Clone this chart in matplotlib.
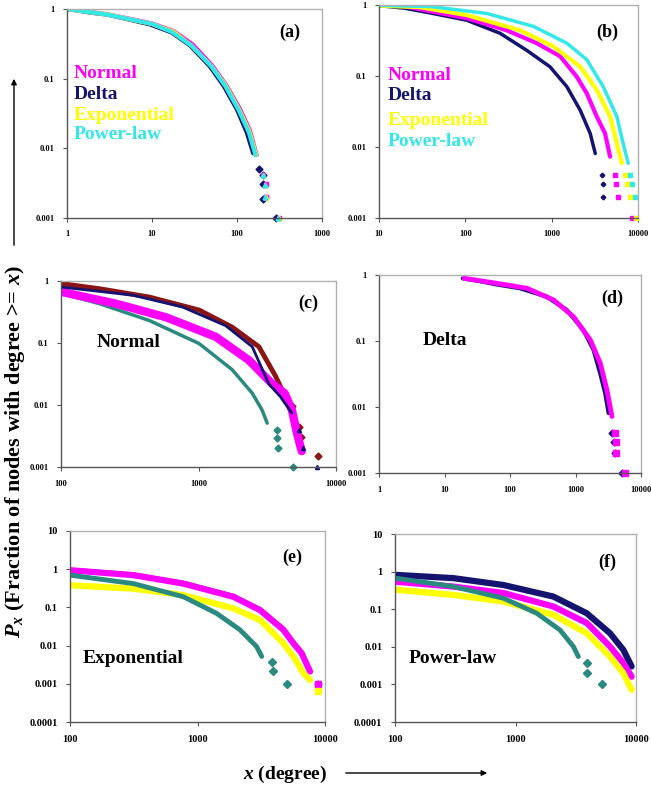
import numpy as np
import matplotlib
matplotlib.use("Agg")
import matplotlib.pyplot as plt

# Colours (Excel palette)
navy = "#141470"
magenta = "#ff00ff"
yellow = "#ffff00"
cyan = "#33e8e8"
darkred = "#8b1414"
teal = "#2a8a80"

# (a) Normal / Delta / Exponential / Power-law, small network
a_delta_x = [1, 2, 3, 5, 9.5, 17, 28, 48, 70, 100, 130, 155, 180, 204, 204, 204, 290]
a_delta_y = [1, 0.88, 0.83, 0.72, 0.6, 0.46, 0.3, 0.15, 0.078, 0.036, 0.017, 0.0085, 0.005, 0.0042, 0.0031, 0.0019, 0.001]
a_normal_x = [1, 2, 3, 5, 10, 18, 30, 51, 75, 108, 142, 170, 205, 218, 222, 222, 315]
a_normal_y = [1, 0.9, 0.84, 0.74, 0.62, 0.48, 0.31, 0.155, 0.08, 0.037, 0.018, 0.008, 0.0042, 0.0031, 0.002, 0.002, 0.001]
a_expo_x = [1, 2, 3, 5, 10, 18, 29, 50, 74, 106, 140, 168, 203, 215, 220, 310]
a_expo_y = [1, 0.89, 0.84, 0.73, 0.61, 0.47, 0.3, 0.152, 0.079, 0.036, 0.0175, 0.008, 0.0042, 0.003, 0.002, 0.001]
a_power_x = [1, 2, 3, 5, 10, 17, 29, 50, 73, 104, 138, 165, 200, 212, 216, 305]
a_power_y = [1, 0.89, 0.83, 0.73, 0.61, 0.47, 0.3, 0.15, 0.078, 0.036, 0.017, 0.008, 0.0042, 0.003, 0.002, 0.001]

# (b) same four, larger network
b_delta_x = [10, 20, 42, 104, 252, 514, 955, 1496, 2140, 2790, 3200, 3800, 3900, 3950]
b_delta_y = [0.98, 0.9, 0.76, 0.61, 0.4, 0.23, 0.135, 0.071, 0.033, 0.0156, 0.0081, 0.004, 0.003, 0.002]
b_normal_x = [10, 19, 104, 302, 671, 1250, 1950, 2550, 3320, 4150, 4750, 5430, 5600, 5930, 8500]
b_normal_y = [0.98, 0.97, 0.65, 0.44, 0.29, 0.19, 0.098, 0.057, 0.027, 0.0156, 0.0073, 0.004, 0.003, 0.002, 0.001]
b_expo_x = [10, 30, 104, 430, 1050, 2140, 3320, 4750, 5680, 6500, 7100, 7400, 8100, 9400]
b_expo_y = [0.98, 0.93, 0.72, 0.44, 0.26, 0.135, 0.064, 0.027, 0.0112, 0.0059, 0.004, 0.003, 0.002, 0.001]
b_power_x = [10, 40, 177, 615, 1496, 2550, 3950, 5680, 6750, 7700, 8000, 8600, 9250]
b_power_y = [0.99, 0.95, 0.76, 0.5, 0.29, 0.17, 0.071, 0.027, 0.011, 0.0059, 0.004, 0.003, 0.002]

# (c) Normal
c_red_x = [100, 191, 440, 1010, 1760, 2750, 3640, 4050, 4780, 5340, 5600, 7450]
c_red_y = [0.91, 0.75, 0.55, 0.34, 0.18, 0.087, 0.029, 0.0175, 0.0095, 0.0045, 0.0031, 0.0015]
c_navy_x = [100, 333, 766, 1577, 2460, 3240, 3930, 4780, 5340, 5800, 7250]
c_navy_y = [0.8, 0.59, 0.38, 0.19, 0.087, 0.022, 0.0137, 0.0074, 0.004, 0.002, 0.001]
c_mag_x = [100, 252, 580, 1334, 2320, 3430, 4240, 4780, 5200, 5630]
c_mag_y = [0.67, 0.43, 0.26, 0.126, 0.053, 0.022, 0.0154, 0.0083, 0.0035, 0.0018]
c_teal_x = [100, 191, 440, 1010, 1760, 2460, 2900, 3160, 3720, 3720, 3810, 4900]
c_teal_y = [0.63, 0.43, 0.23, 0.098, 0.037, 0.0155, 0.0083, 0.0051, 0.004, 0.0029, 0.002, 0.001]

# (d) Delta
d_navy_x = [19, 39, 62, 142, 364, 736, 1320, 1890, 2390, 2850, 3200, 3600, 3830, 4050, 5120]
d_navy_y = [0.89, 0.79, 0.72, 0.63, 0.47, 0.295, 0.147, 0.073, 0.032, 0.016, 0.0081, 0.004, 0.003, 0.002, 0.001]
d_mag_x = [20, 62, 180, 460, 930, 1680, 2390, 3020, 3600, 4050, 4200, 4200, 5760]
d_mag_y = [0.89, 0.75, 0.63, 0.42, 0.234, 0.104, 0.046, 0.018, 0.0072, 0.004, 0.003, 0.002, 0.001]

# (e) Exponential
e_navy_x = [100, 314, 775, 1910, 3090, 4710, 5650, 6560, 7630, 8870]
e_navy_y = [0.95, 0.71, 0.43, 0.195, 0.087, 0.027, 0.0118, 0.0064, 0.0021, 0.001]
e_mag_x = [100, 314, 775, 1910, 3090, 4710, 5650, 6560, 7630, 8870]
e_mag_y = [0.94, 0.7, 0.42, 0.19, 0.085, 0.026, 0.0115, 0.0063, 0.0021, 0.001]
e_yel_x = [100, 314, 775, 1910, 3090, 4710, 5650, 6760, 7630, 8870]
e_yel_y = [0.38, 0.31, 0.21, 0.094, 0.047, 0.0115, 0.0052, 0.0019, 0.00126, 0.00063]
e_teal_x = [100, 314, 775, 1410, 2150, 2910, 3190, 3820, 3930, 5010]
e_teal_y = [0.7, 0.42, 0.19, 0.07, 0.026, 0.0094, 0.0052, 0.0038, 0.0021, 0.001]

# (f) Power-law
f_navy_x = [100, 305, 793, 2060, 3900, 6080, 7850, 9200]
f_navy_y = [0.82, 0.67, 0.44, 0.217, 0.078, 0.023, 0.0083, 0.003]
f_mag_x = [100, 305, 793, 2060, 3900, 6080, 7850, 9200]
f_mag_y = [0.54, 0.4, 0.27, 0.118, 0.043, 0.0102, 0.0037, 0.0016]
f_yel_x = [100, 305, 793, 2060, 3900, 6080, 7850, 9200]
f_yel_y = [0.33, 0.24, 0.16, 0.071, 0.023, 0.0055, 0.002, 0.00072]
f_teal_x = [100, 305, 793, 1500, 2340, 3020, 3320, 3900, 3900, 5190]
f_teal_y = [0.67, 0.4, 0.196, 0.078, 0.028, 0.0102, 0.0055, 0.0037, 0.002, 0.00105]

serif = "Liberation Serif"
plt.rcParams["font.family"] = serif
plt.rcParams["mathtext.fontset"] = "custom"
plt.rcParams["mathtext.it"] = "Liberation Serif:italic:bold"
plt.rcParams["mathtext.rm"] = "Liberation Serif:bold"

fig = plt.figure(figsize=(6.51, 7.88), dpi=100)


def draw(ax, x, y, color, marker, lw=3.5, ms=3.5, cut=0.006, z=2):
    # thick band for the dense part, single markers for the sparse tail
    x = np.array(x, dtype=float)
    y = np.array(y, dtype=float)
    body = y >= cut
    ax.plot(x[body], y[body], color=color, lw=lw, solid_capstyle="round",
            solid_joinstyle="round", zorder=z)
    ax.plot(x[~body], y[~body], ls="none", marker=marker, color=color, ms=ms, mec=color,
            clip_on=False, zorder=z)


def setup(ax, xlim, ylim, xt, yt, fs=6, letter="", lpos=(0.875, 0.89)):
    ax.set_xscale("log")
    ax.set_yscale("log")
    ax.set_xlim(xlim)
    ax.set_ylim(ylim)
    ax.set_xticks(xt)
    ax.set_xticklabels([str(v) for v in xt])
    ax.set_yticks(yt)
    ax.set_yticklabels([f"{v:g}" if v >= 1e-3 else "0.0001" for v in yt])
    ax.minorticks_off()
    ax.tick_params(labelsize=fs, length=3, width=0.8, color="#555555", pad=6)
    for lab in ax.get_xticklabels() + ax.get_yticklabels():
        lab.set_fontweight("bold")
    for s in ["left", "bottom"]:
        ax.spines[s].set_color("#555555")
        ax.spines[s].set_linewidth(1.0)
    for s in ["top", "right"]:
        ax.spines[s].set_color("#b0b0b0")
        ax.spines[s].set_linewidth(1.0)
    ax.text(lpos[0], lpos[1], letter, transform=ax.transAxes, fontsize=13,
            fontweight="bold", ha="center", va="center")


def legend_words(ax, x0, ys):
    for (word, col), yy in zip([("Normal", magenta), ("Delta", navy),
                                ("Exponential", yellow), ("Power-law", cyan)], ys):
        ax.text(x0, yy, word, transform=ax.transAxes, color=col, fontsize=14,
                fontweight="bold", ha="left", va="center")


W, H = 651, 788


def box(l, r, t, b):
    return [l / W, (H - b) / H, (r - l) / W, (b - t) / H]


# (a)
ax = fig.add_axes(box(67, 322, 9, 218))
draw(ax, a_delta_x, a_delta_y, navy, "D", lw=3)
draw(ax, a_normal_x, a_normal_y, magenta, "s", lw=3)
draw(ax, a_expo_x, a_expo_y, yellow, "^", lw=3)
draw(ax, a_power_x, a_power_y, cyan, "^", lw=3)
setup(ax, (1, 1000), (0.001, 1), [1, 10, 100, 1000], [0.001, 0.01, 0.1, 1], letter="(a)")
legend_words(ax, 0.025, [0.69, 0.59, 0.49, 0.40])

# (b)
ax = fig.add_axes(box(379, 638, 5, 218))
draw(ax, b_delta_x, b_delta_y, navy, "P", lw=2.5, ms=3, cut=0.005)
draw(ax, b_normal_x, b_normal_y, magenta, "s", lw=3, cut=0.005)
draw(ax, b_expo_x, b_expo_y, yellow, "s", lw=3, cut=0.005)
draw(ax, b_power_x, b_power_y, cyan, "s", lw=2.5, ms=3, cut=0.005)
setup(ax, (10, 10000), (0.001, 1), [10, 100, 1000, 10000], [0.001, 0.01, 0.1, 1], letter="(b)",
      lpos=(0.88, 0.87))
legend_words(ax, 0.035, [0.67, 0.575, 0.46, 0.36])

# (c)
ax = fig.add_axes(box(61, 336, 281, 467))
draw(ax, c_red_x, c_red_y, darkred, "D", lw=3.5, cut=0.012)
draw(ax, c_teal_x, c_teal_y, teal, "D", lw=2.5, cut=0.005)
draw(ax, c_mag_x, c_mag_y, magenta, "s", lw=6, ms=5, cut=0.0015)
draw(ax, c_navy_x, c_navy_y, navy, "^", lw=2, ms=3)
setup(ax, (100, 10000), (0.001, 1), [100, 1000, 10000], [0.001, 0.01, 0.1, 1], letter="(c)",
      lpos=(0.90, 0.88))
ax.text(0.13, 0.67, "Normal", transform=ax.transAxes, fontsize=14, fontweight="bold",
        ha="left", va="center")

# (d)
ax = fig.add_axes(box(379, 641, 275, 473))
draw(ax, d_navy_x, d_navy_y, navy, "D", lw=3)
draw(ax, d_mag_x, d_mag_y, magenta, "s", lw=3.5, ms=4)
setup(ax, (1, 10000), (0.001, 1), [1, 10, 100, 1000, 10000], [0.001, 0.01, 0.1, 1], letter="(d)",
      lpos=(0.89, 0.88))
ax.text(0.165, 0.67, "Delta", transform=ax.transAxes, fontsize=14, fontweight="bold",
        ha="left", va="center")

# (e)
ax = fig.add_axes(box(70, 325, 531, 722))
draw(ax, e_navy_x, e_navy_y, navy, "D", lw=3.5, cut=0.002)
draw(ax, e_mag_x, e_mag_y, magenta, "s", lw=4.5, ms=4.5, cut=0.002)
draw(ax, e_yel_x, e_yel_y, yellow, "s", lw=4.5, ms=4.5, cut=0.0012)
draw(ax, e_teal_x, e_teal_y, teal, "D", lw=3.5, ms=4.5, cut=0.005)
setup(ax, (100, 10000), (0.0001, 10), [100, 1000, 10000], [0.0001, 0.001, 0.01, 0.1, 1, 10],
      fs=7.5, letter="(e)", lpos=(0.87, 0.86))
ax.text(0.05, 0.335, "Exponential", transform=ax.transAxes, fontsize=14, fontweight="bold",
        ha="left", va="center")

# (f)
ax = fig.add_axes(box(395, 636, 534, 722))
draw(ax, f_navy_x, f_navy_y, navy, "D", lw=4.5, ms=4, cut=0.0005)
draw(ax, f_mag_x, f_mag_y, magenta, "s", lw=4.5, ms=4, cut=0.0005)
draw(ax, f_yel_x, f_yel_y, yellow, "s", lw=4.5, ms=4, cut=0.0005)
draw(ax, f_teal_x, f_teal_y, teal, "D", lw=3.5, ms=4.5, cut=0.005)
setup(ax, (100, 10000), (0.0001, 10), [100, 1000, 10000], [0.0001, 0.001, 0.01, 0.1, 1, 10],
      fs=7.5, letter="(f)", lpos=(0.88, 0.85))
ax.text(0.055, 0.34, "Power-law", transform=ax.transAxes, fontsize=14, fontweight="bold",
        ha="left", va="center")

# axis titles with arrows
fig.text(15 / W, 1 - 452 / H, r"$P_x$ (Fraction of nodes with degree >= $x$)",
         rotation=90, fontsize=16, fontweight="bold", ha="center", va="center")
fig.text(285 / W, 1 - 774 / H, r"$x$ (degree)", fontsize=14, fontweight="bold",
         ha="center", va="center")
fig.patches.append(matplotlib.patches.FancyArrowPatch(
    (14 / W, 1 - 248 / H), (14 / W, 1 - 76 / H), transform=fig.transFigure,
    arrowstyle="-|>", mutation_scale=8, lw=1, color="black"))
fig.patches.append(matplotlib.patches.FancyArrowPatch(
    (343 / W, 1 - 773 / H), (490 / W, 1 - 773 / H), transform=fig.transFigure,
    arrowstyle="-|>", mutation_scale=8, lw=1, color="black"))

fig.savefig("out.png", dpi=100)
